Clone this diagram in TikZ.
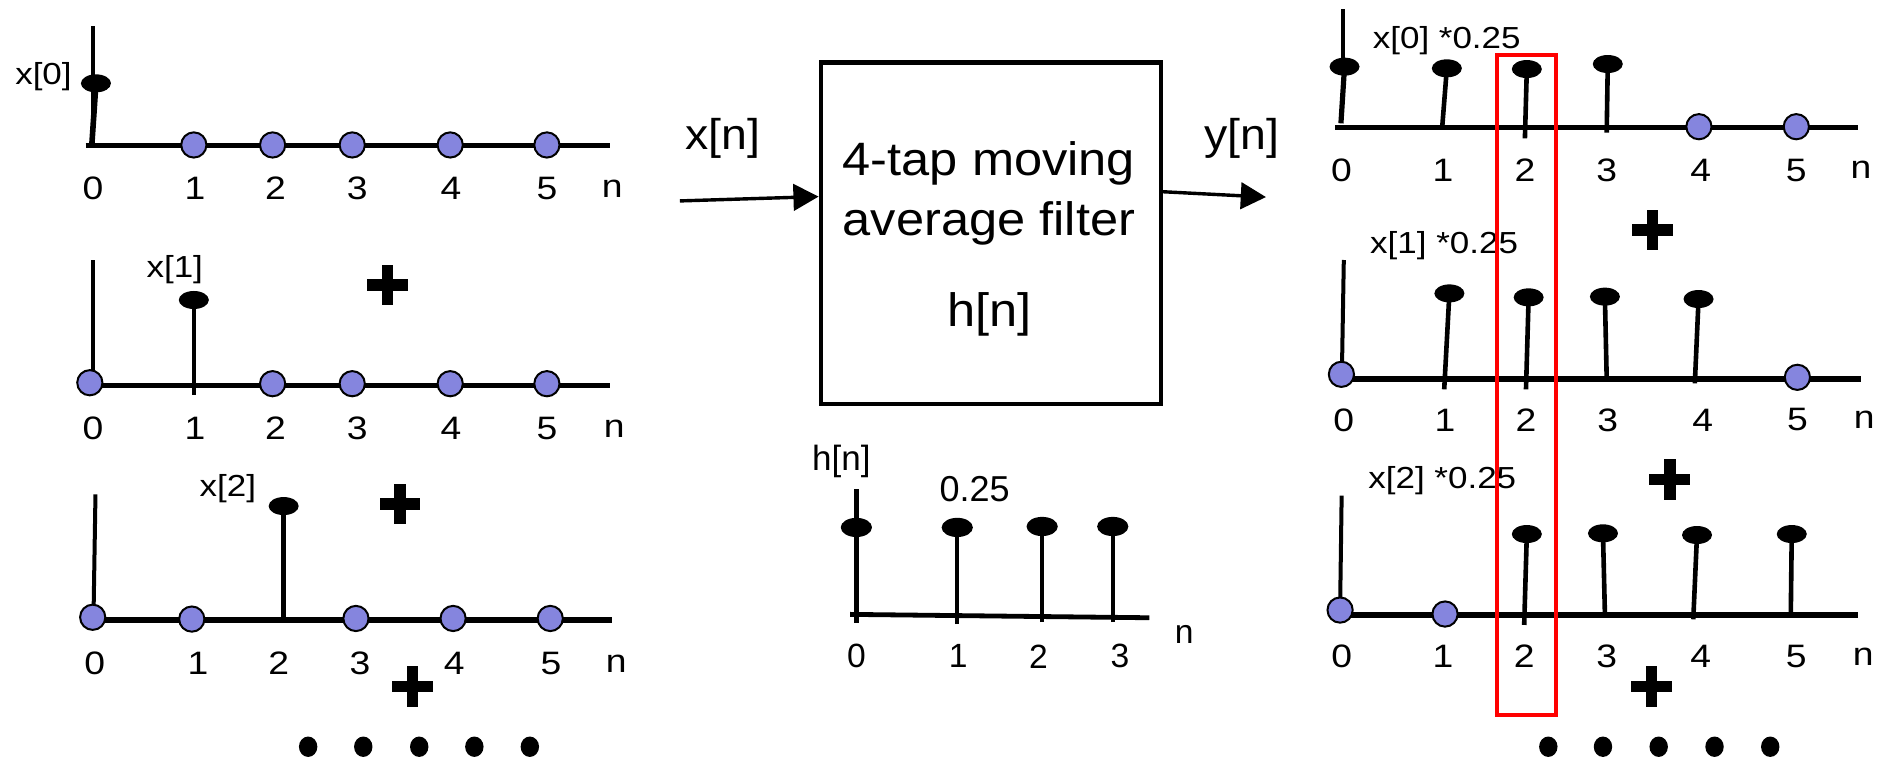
\documentclass[tikz,border=0pt]{standalone}
\usepackage{fontspec}
\setmainfont{Liberation Sans}
\newfontfamily\wfont[FakeStretch=1.15]{Liberation Sans}
\newfontfamily\bfont[FakeStretch=1.08]{Liberation Sans}
\usetikzlibrary{arrows.meta,shapes.geometric,calc}
\definecolor{peri}{RGB}{133,133,222}
\definecolor{hlred}{RGB}{255,0,0}
\begin{document}
\begin{tikzpicture}[x=0.6pt,y=-0.6pt,
  axl/.style={line width=2.65pt},
  yax/.style={line width=2pt},
  stm/.style={line width=2.3pt},
  mk/.style={ellipse, fill=black, inner sep=0pt, minimum width=15pt, minimum height=9pt},
  zc/.style={circle, draw=black, line width=1pt, fill=peri, inner sep=0pt, minimum size=12.6pt},
  dt/.style={ellipse, fill=black, inner sep=0pt, minimum width=9.2pt, minimum height=10.2pt},
  num/.style={inner sep=0pt, font=\wfont\fontsize{16.2}{19}\selectfont},
  sig/.style={inner sep=0pt, font=\wfont\fontsize{15.2}{18}\selectfont},
  hnum/.style={inner sep=0pt, font=\fontsize{16.8}{20}\selectfont},
  boxt/.style={inner sep=0pt, font=\bfont\fontsize{23.4}{28}\selectfont},
  io/.style={inner sep=0pt, font=\bfont\fontsize{21.5}{26}\selectfont},
  arr/.style={line width=1.7pt, -{Triangle[length=12.6pt,width=13.2pt]}},
  plussign/.pic={\fill (-17,-4.75) rectangle (17,4.75); \fill (-4.75,-17) rectangle (4.75,17);}
]
\useasboundingbox (0,0) rectangle (1568,632);
\fill[white] (0,0) rectangle (1568,632);

% ---------------- Left panel 1 ----------------
\coordinate (L1t) at (77.5,22);
\coordinate (L1u) at (77.5,118);
\draw[yax] (L1t) -- (L1u);
\coordinate (L1a) at (71.4,121.3);
\coordinate (L1b) at (508.1,121.3);
\draw[axl] (L1a) -- (L1b);
\node[mk] (L1m0) at (79.9,69.4) {};
\coordinate (L1s0) at (76.5,120);
\draw[line width=2.8pt] (L1s0) -- (L1m0.center);
\foreach \x [count=\i] in {161.4,227,293.3,374.9,455.4}
  \node[zc] (L1c\i) at (\x,120.7) {};
\foreach \x/\t [count=\i] in {77.5/0,162.4/1,229.4/2,297.4/3,375.6/4,455.4/5,509.8/n}
  \node[num] (L1n\i) at (\x,156.8) {\t};
\node[sig] (L1lab) at (36.2,63.9) {x[0]};

% ---------------- Left panel 2 ----------------
\coordinate (L2t) at (77.5,216.5);
\coordinate (L2u) at (77.5,310);
\draw[yax] (L2t) -- (L2u);
\coordinate (L2a) at (74.8,321.2);
\coordinate (L2b) at (508.1,321.2);
\draw[axl] (L2a) -- (L2b);
\node[zc] (L2c0) at (74.8,318.7) {};
\node[mk] (L2m1) at (161.4,249.8) {};
\coordinate (L2s1) at (161.4,328.9);
\draw[stm] (L2s1) -- (L2m1.center);
\foreach \x [count=\i] in {227,293.3,374.9,455.4}
  \node[zc] (L2c\i) at (\x,319.5) {};
\foreach \x/\t [count=\i] in {77.5/0,162.4/1,229.4/2,297.4/3,375.6/4,455.4/5,511.5/n}
  \node[num] (L2n\i) at (\x,356.7) {\t};
\node[sig] (L2lab) at (145.5,224.8) {x[1]};
\pic at (322.9,237.3) {plussign};

% ---------------- Left panel 3 ----------------
\coordinate (L3t) at (79.5,411.6);
\coordinate (L3u) at (78,505);
\draw[yax] (L3t) -- (L3u);
\coordinate (L3a) at (77.2,516.3);
\coordinate (L3b) at (509.8,516.3);
\draw[axl] (L3a) -- (L3b);
\node[mk] (L3m2) at (236.2,421.4) {};
\coordinate (L3s2) at (236.2,516.3);
\draw[stm] (L3s2) -- (L3m2.center);
\foreach \x/\y [count=\i] in {77.2/514,159.7/515.5,296.4/515,377.3/515,458.2/515}
  \node[zc] (L3c\i) at (\x,\y) {};
\foreach \x/\t [count=\i] in {78.8/0,164.8/1,232.1/2,299.8/3,378.3/4,458.8/5,513.2/n}
  \node[num] (L3n\i) at (\x,552.4) {\t};
\node[sig] (L3lab) at (189.7,406.6) {x[2]};
\pic at (333.1,419.7) {plussign};
\pic at (343.3,571.8) {plussign};
\foreach \x [count=\i] in {256.6,302.5,349.1,395,441.2}
  \node[dt] (Ld\i) at (\x,621.8) {};

% ---------------- Middle: filter ----------------
\node[draw, line width=2.1pt, minimum width=170pt, minimum height=170.6pt, inner sep=0pt] (flt) at (825.1,194.2) {};
\node[boxt, anchor=base] (ft1) at (823.5,146.1) {4-tap moving};
\node[boxt, anchor=base] (ft2) at (823.5,196.2) {average filter};
\node[boxt, anchor=base] (ft3) at (824,272.2) {h[n]};
\coordinate (xin) at (566.2,167.3);
\draw[arr] (xin) -- ($(flt.north west)!0.394!(flt.south west)$);
\coordinate (yout) at (1054.2,164.1);
\draw[arr] ($(flt.north east)!0.38!(flt.south east)$) -- (yout);
\node[io] (xlab) at (602,115.1) {x[n]};
\node[io] (ylab) at (1034,115.1) {y[n]};

% ---------------- Middle: h[n] ----------------
\coordinate (Hv0) at (713.1,407.5);
\coordinate (Hv1) at (713.1,518.4);
\draw[line width=2.8pt] (Hv0) -- (Hv1);
\coordinate (Ha) at (707.9,511.6);
\coordinate (Hb) at (957,514.4);
\draw[line width=2.4pt] (Ha) -- (Hb);
\node[mk, minimum width=15.6pt, minimum height=9.6pt] (Hm0) at (713.1,439.2) {};
\foreach \x/\y/\b [count=\i] in {797.1/439.2/519.6,867.8/438.4/518,926.6/438.4/518}{
  \node[mk, minimum width=15.6pt, minimum height=9.6pt] (Hm\i) at (\x,\y) {};
  \coordinate (Hs\i) at (\x,\b);
  \draw[line width=2.1pt] (Hs\i) -- (Hm\i.center);
}
\node[inner sep=0pt, font=\fontsize{17.5}{21}\selectfont] (hlab) at (700.6,384.3) {h[n]};
\node[inner sep=0pt, font=\fontsize{18}{21}\selectfont] (hval) at (811.6,407.5) {0.25};
\foreach \x/\t [count=\i] in {713.1/0,797.9/1,864.8/2,932.7/3}
  \node[hnum] (Hn\i) at (\x,546.5) {\t};
\node[hnum] (Hnn) at (986,528.4) {n};

% ---------------- Right panel 1 ----------------
\coordinate (R1t) at (1118.2,7.8);
\coordinate (R1u) at (1118.2,60);
\draw[yax] (R1t) -- (R1u);
\coordinate (R1a) at (1111.8,106.3);
\coordinate (R1b) at (1547.5,106.3);
\draw[axl] (R1a) -- (R1b);
\node[mk] (R1m0) at (1119.6,55.5) {};
\coordinate (R1s0) at (1116.6,102.7);
\draw[line width=2.6pt] (R1s0) -- (R1m0.center);
\foreach \bx/\by/\mx/\my [count=\i] in {1201/105/1204.8/56.9,1269.8/115.2/1271.4/57.5,1337.9/110.5/1338.8/53.3}{
  \node[mk] (R1m\i) at (\mx,\my) {};
  \coordinate (R1s\i) at (\bx,\by);
  \draw[stm] (R1s\i) -- (R1m\i.center);
}
\node[zc] (R1c4) at (1414.7,105.5) {};
\node[zc] (R1c5) at (1495.8,105.5) {};
\foreach \x/\t [count=\i] in {1117/0,1201.6/1,1269.8/2,1337.9/3,1416.2/4,1495.8/5,1549.7/n}
  \node[num] (R1n\i) at (\x,141.6) {\t};
\node[sig] (R1lab) at (1204.7,34) {x[0] *0.25};

% ---------------- Right panel 2 ----------------
\pic at (1376,191.5) {plussign};
\node[sig] (R2lab) at (1202.5,204.7) {x[1] *0.25};
\coordinate (R2t) at (1119,216.5);
\coordinate (R2u) at (1117.5,305);
\draw[yax] (R2t) -- (R2u);
\coordinate (R2a) at (1117,315.6);
\coordinate (R2b) at (1549.4,315.6);
\draw[axl] (R2a) -- (R2b);
\node[zc] (R2c0) at (1117,311.7) {};
\foreach \bx/\by/\mx/\my [count=\i] in {1202.6/324.2/1206.9/244.3,1270.7/324.2/1272.9/247.6,1337.9/315/1336.4/247,1411.3/319.2/1414.4/249}{
  \node[mk] (R2m\i) at (\mx,\my) {};
  \coordinate (R2s\i) at (\bx,\by);
  \draw[stm] (R2s\i) -- (R2m\i.center);
}
\node[zc] (R2c5) at (1496.7,314.2) {};
\foreach \x/\t [count=\i] in {1119/0,1203.3/1,1270.7/2,1338.8/3,1417.8/4,1496.7/5,1552.4/n}
  \node[num] (R2n\i) at (\x,349.7) {\t};

% ---------------- Right panel 3 ----------------
\pic at (1390.5,399.2) {plussign};
\node[sig] (R3lab) at (1201,400.4) {x[2] *0.25};
\coordinate (R3t) at (1117.2,412.7);
\coordinate (R3u) at (1116,500);
\draw[yax] (R3t) -- (R3u);
\coordinate (R3a) at (1115.9,512.1);
\coordinate (R3b) at (1547.5,512.1);
\draw[axl] (R3a) -- (R3b);
\node[zc] (R3c0) at (1115.9,508) {};
\node[zc] (R3c1) at (1203.3,511.3) {};
\foreach \bx/\by/\mx/\my [count=\i] in {1269.2/520.4/1271.4/444.7,1336.4/510.7/1334.8/444.1,1410/515.7/1413.1/445.5,1491.2/510.7/1492/444.7}{
  \node[mk] (R3m\i) at (\mx,\my) {};
  \coordinate (R3s\i) at (\bx,\by);
  \draw[stm] (R3s\i) -- (R3m\i.center);
}
\foreach \x/\t [count=\i] in {1117.2/0,1201.6/1,1269.2/2,1337.9/3,1416.2/4,1495.8/5,1551.5/n}
  \node[num] (R3n\i) at (\x,546.8) {\t};
\pic at (1375.1,571.8) {plussign};
\foreach \x [count=\i] in {1289.3,1334.8,1381.2,1427.7,1474.1}
  \node[dt] (Rd\i) at (\x,621.8) {};

% ---------------- Highlight ----------------
\node[draw=hlred, line width=2.2pt, minimum width=29.3pt, minimum height=329.8pt, inner sep=0pt] (hl) at (1271.05,320.6) {};
\end{tikzpicture}
\end{document}
